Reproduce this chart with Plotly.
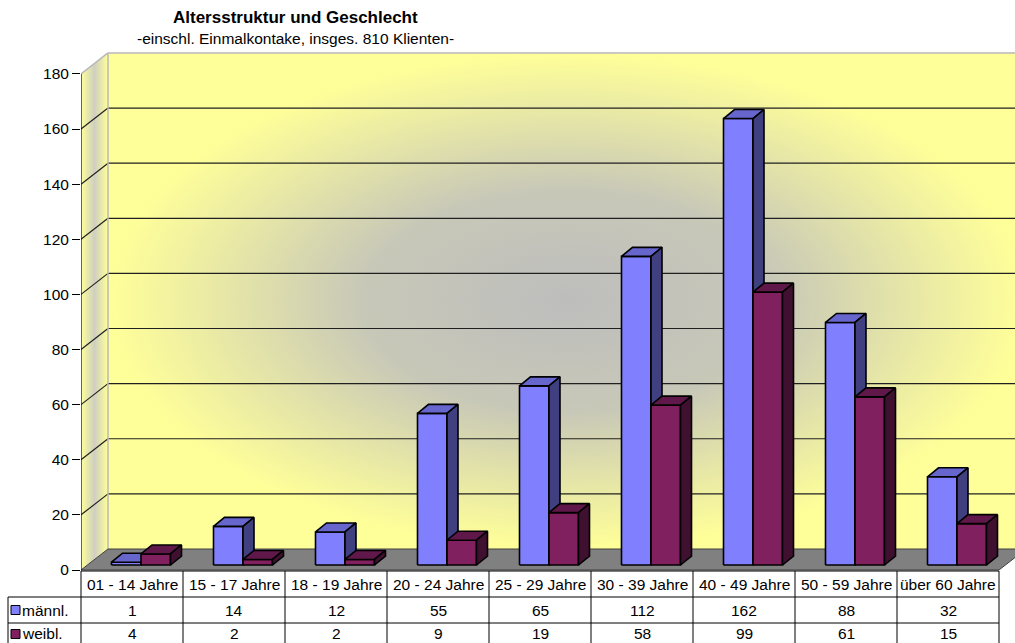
import plotly.graph_objects as go

# chart data
categories = ["01 - 14 Jahre", "15 - 17 Jahre", "18 - 19 Jahre", "20 - 24 Jahre",
              "25 - 29 Jahre", "30 - 39 Jahre", "40 - 49 Jahre", "50 - 59 Jahre",
              "über 60 Jahre"]
maennl = [1, 14, 12, 55, 65, 112, 162, 88, 32]
weibl = [4, 2, 2, 9, 19, 58, 99, 61, 15]
series_names = ["männl.", "weibl."]
y_ticks = [0, 20, 40, 60, 80, 100, 120, 140, 160, 180]

title = "Altersstruktur und Geschlecht"
subtitle = "-einschl. Einmalkontake, insges. 810 Klienten-"

# layout geometry (pixels)
W, H = 1015, 643
ML, MT = 81, 40
PX_CAT = 102.0      # px per category
PX_VAL = 2.756      # px per value unit
Y0_PX = 570         # pixel row of value 0 on the front plane

x_min = -0.5
x_max = -0.5 + (W - ML) / PX_CAT
y_max = (Y0_PX - MT) / PX_VAL
y_min = -(H - Y0_PX) / PX_VAL
y_top = y_ticks[-1]

DX, DY = 27 / PX_CAT, 21 / PX_VAL      # wall depth
BDX, BDY = 11 / PX_CAT, 9 / PX_VAL     # bar depth
BASE = 5 / PX_VAL
x_end = len(categories) - 0.5

FONT = "Liberation Sans, Arial, sans-serif"


def px_x(p):
    return (p - ML) / (W - ML)


def px_y(p):
    return (H - p) / (H - MT)


def poly_trace(polys, fill, line_color="black", lw=1.5, **kw):
    xs, ys = [], []
    for p in polys:
        for x, y in p + [p[0]]:
            xs.append(x)
            ys.append(y)
        xs.append(None)
        ys.append(None)
    return go.Scatter(x=xs, y=ys, mode="lines", fill="toself", fillcolor=fill,
                      line=dict(color=line_color, width=lw),
                      hoverinfo="skip", showlegend=False, **kw)


def line_trace(segs, color, lw):
    xs, ys = [], []
    for (x0, y0), (x1, y1) in segs:
        xs += [x0, x1, None]
        ys += [y0, y1, None]
    return go.Scatter(x=xs, y=ys, mode="lines", line=dict(color=color, width=lw),
                      hoverinfo="skip", showlegend=False)


fig = go.Figure()

# side wall
fig.add_trace(poly_trace(
    [[(x_min, 0), (x_min + DX, DY), (x_min + DX, y_top + DY), (x_min, y_top)]],
    "#ffff99", line_color="rgba(0,0,0,0)", lw=0,
    fillgradient=dict(type="horizontal",
                      colorscale=[[0, "#ffff99"], [0.5, "#cfcfc0"], [1, "#ffff99"]])))

# back wall
fig.add_trace(poly_trace(
    [[(x_min + DX, DY), (x_end + DX, DY), (x_end + DX, y_top + DY), (x_min + DX, y_top + DY)]],
    "#ffff99", line_color="rgba(0,0,0,0)", lw=0,
    fillgradient=dict(type="radial",
                      colorscale=[[0, "#bdbdbd"], [0.45, "#c8c8b8"], [0.8, "#ececa4"],
                                  [1, "#ffff99"]])))

# gridlines
grid = []
for v in y_ticks[1:-1]:
    grid.append(((x_min, v), (x_min + DX, v + DY)))
    grid.append(((x_min + DX, v + DY), (x_end + DX, v + DY)))
fig.add_trace(line_trace(grid, "#202020", 1.2))

# wall edges
edges = [((x_min, y_top), (x_min + DX, y_top + DY)),
         ((x_min + DX, y_top + DY), (x_end + DX, y_top + DY)),
         ((x_min + DX, DY), (x_min + DX, y_top + DY))]
fig.add_trace(line_trace(edges, "#b8b8b8", 1.5))

# floor
fig.add_trace(poly_trace(
    [[(x_min, 0), (x_end, 0), (x_end + DX, DY), (x_min + DX, DY)]],
    "#808080", line_color="#404040", lw=1))

# axis line
fig.add_trace(line_trace([((x_min, 0), (x_min, y_top))], "black", 1.2))

# bars
series = [
    (maennl, -20.5 / PX_CAT, 9.0 / PX_CAT, "#8080ff", "#6666cc", "#404080"),
    (weibl, 9.0 / PX_CAT, 38.5 / PX_CAT, "#80205f", "#60184a", "#401030"),
]
for vals, o0, o1, c_front, c_top, c_side in series:
    fronts, tops, sides = [], [], []
    for i, v in enumerate(vals):
        x0, x1 = i + o0, i + o1
        y0, y1 = BASE, BASE + v
        fronts.append([(x0, y0), (x1, y0), (x1, y1), (x0, y1)])
        tops.append([(x0, y1), (x1, y1), (x1 + BDX, y1 + BDY), (x0 + BDX, y1 + BDY)])
        sides.append([(x1, y0), (x1 + BDX, y0 + BDY), (x1 + BDX, y1 + BDY), (x1, y1)])
    fig.add_trace(poly_trace(fronts, c_front, lw=1.6))
    fig.add_trace(poly_trace(tops, c_top, lw=1.6))
    fig.add_trace(poly_trace(sides, c_side, lw=1.6))

# data table
shapes = []
row_px = [571, 597, 623, 660]
col_px = [ML + k * PX_CAT for k in range(len(categories) + 1)]
tl = dict(color="black", width=1)
shapes.append(dict(type="line", xref="paper", yref="paper",
                   x0=px_x(col_px[0]), x1=px_x(col_px[-1]),
                   y0=px_y(row_px[0]), y1=px_y(row_px[0]), line=tl))
for r in row_px[1:3]:
    shapes.append(dict(type="line", xref="paper", yref="paper",
                       x0=px_x(8), x1=px_x(col_px[-1]), y0=px_y(r), y1=px_y(r), line=tl))
for c in col_px:
    shapes.append(dict(type="line", xref="paper", yref="paper",
                       x0=px_x(c), x1=px_x(c), y0=px_y(row_px[0]), y1=px_y(row_px[-1]), line=tl))
shapes.append(dict(type="line", xref="paper", yref="paper",
                   x0=px_x(8), x1=px_x(8), y0=px_y(row_px[1]), y1=px_y(row_px[-1]), line=tl))

annotations = []
tf = dict(family=FONT, size=15.5, color="black")
cell = dict(xref="x", yref="paper", xanchor="center", yanchor="middle",
            showarrow=False, font=tf)
for i, cat in enumerate(categories):
    annotations.append(dict(x=i, y=px_y(584), text=cat, **cell))
    annotations.append(dict(x=i, y=px_y(610), text=str(maennl[i]), **cell))
    annotations.append(dict(x=i, y=px_y(633), text=str(weibl[i]), **cell))

for name, color, yc in [(series_names[0], "#8080ff", 610), (series_names[1], "#80205f", 634)]:
    shapes.append(dict(type="rect", xref="paper", yref="paper",
                       x0=px_x(11), x1=px_x(20), y0=px_y(yc - 4.5), y1=px_y(yc + 4.5),
                       fillcolor=color, line=dict(color="black", width=1)))
    annotations.append(dict(x=px_x(20), xref="paper", y=px_y(yc - 1 if yc > 620 else yc),
                            yref="paper", text=name, xanchor="left", yanchor="middle",
                            showarrow=False, font=tf))

annotations.append(dict(x=px_x(295), xref="paper", y=px_y(18), yref="paper",
                        xanchor="center", yanchor="middle",
                        text="<b>" + title + "</b>", showarrow=False,
                        font=dict(family=FONT, size=17, color="black")))
annotations.append(dict(x=px_x(295), xref="paper", y=px_y(39), yref="paper",
                        xanchor="center", yanchor="middle",
                        text=subtitle, showarrow=False, font=tf))

fig.update_layout(
    width=W, height=H,
    margin=dict(l=ML, r=0, t=MT, b=0),
    paper_bgcolor="white",
    plot_bgcolor="white",
    showlegend=False,
    shapes=shapes,
    annotations=annotations,
    xaxis=dict(range=[x_min, x_max], visible=False, showgrid=False, zeroline=False),
    yaxis=dict(range=[y_min, y_max], tickvals=y_ticks, ticks="outside", ticklen=8,
               tickcolor="black", tickwidth=1.2, showgrid=False, zeroline=False,
               showline=False, tickfont=dict(family=FONT, size=15.5, color="black")),
)

fig.write_html("out.html", config={"displayModeBar": False},
               post_script="document.body.style.margin='0';")
